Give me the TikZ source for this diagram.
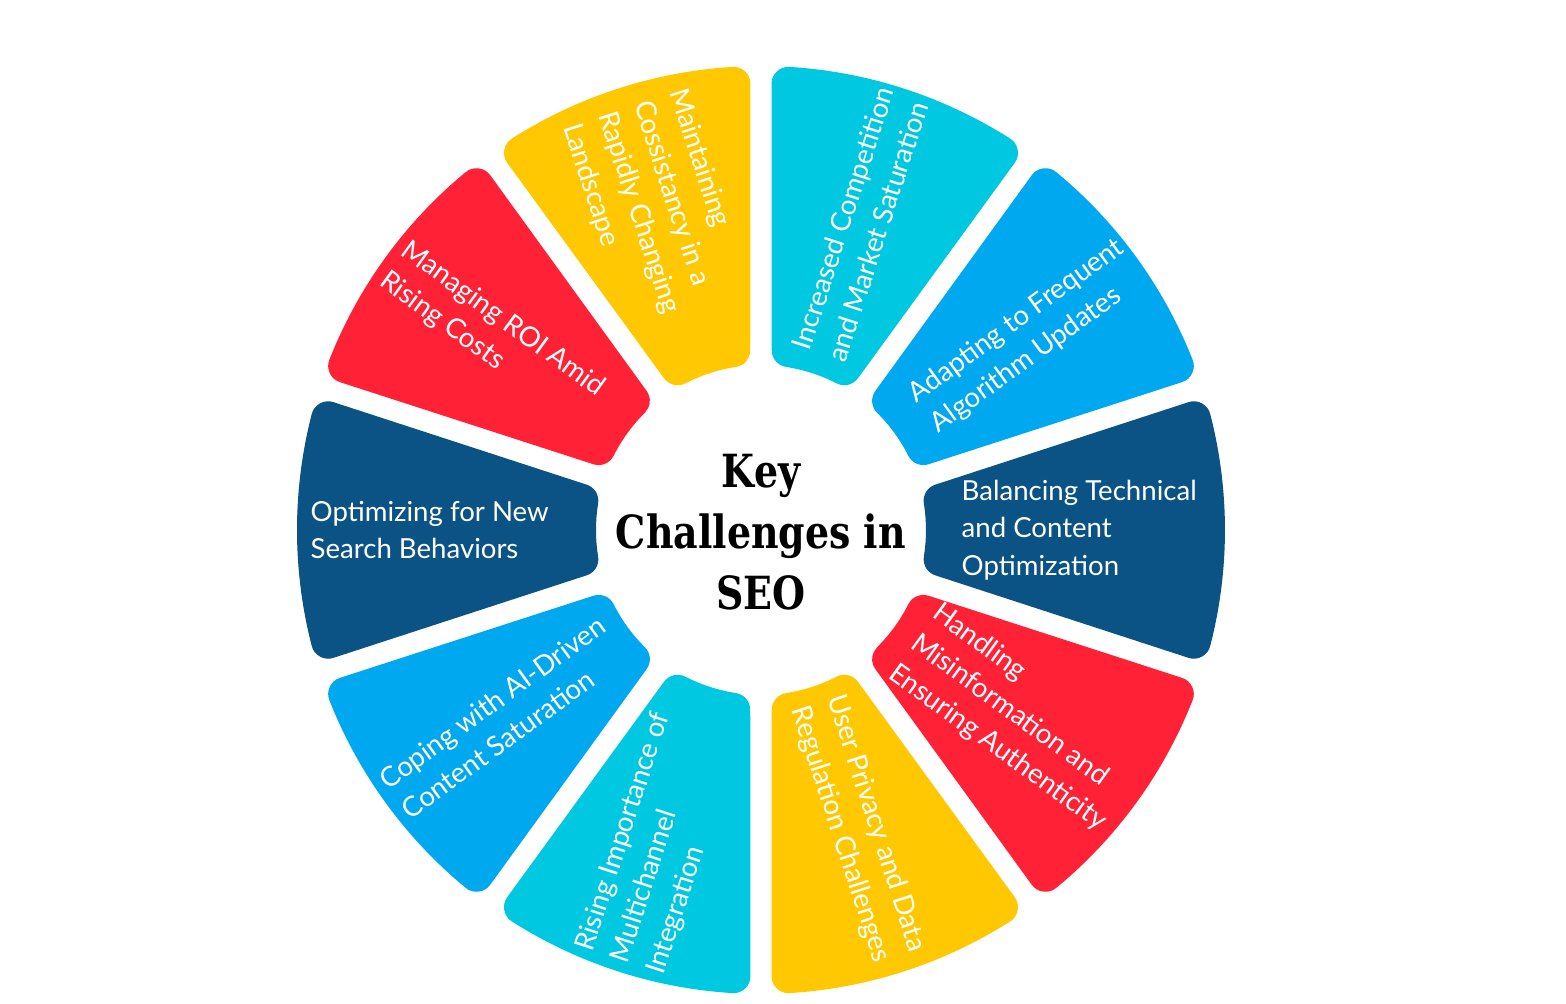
\documentclass[tikz,border=0pt]{standalone}
\usepackage{fontspec}
\setmainfont{Lato}
\newfontfamily\titlefont[FakeStretch=0.83]{DejaVu Serif}
\usepackage{xcolor}
\usepackage{tikz}
\usetikzlibrary{positioning}

\definecolor{segyellow}{HTML}{FFC800}
\definecolor{segred}{HTML}{FF2236}
\definecolor{segnavy}{HTML}{0B5384}
\definecolor{segblue}{HTML}{00A8F0}
\definecolor{segcyan}{HTML}{00C8E0}

\begin{document}
\begin{tikzpicture}[
    seg/.style={fill=#1, draw=#1, line width=3.4mm, line join=round},
    lbl/.style={text=white, align=left, inner sep=0pt, anchor=west, font=\fontsize{7.85}{10.6}\selectfont},
    title/.style={align=center, font=\titlefont\bfseries\fontsize{13}{17.4}\selectfont}
  ]
  % Canvas
  \useasboundingbox[fill=white] (-7.61,-4.74) rectangle (8.05,5.30);

  % Ring segments
  \foreach \a/\col in {90/segyellow,126/segred,162/segnavy,198/segblue,234/segcyan,
                       270/segyellow,306/segred,342/segnavy,378/segblue,414/segcyan} {
    \pgfmathsetmacro{\b}{\a+36}
    \draw[seg=\col] (\a+8.77:1.82) -- (\a+3.53:4.47)
      arc[start angle=\a+3.53, end angle=\b-3.53, radius=4.47]
      -- (\b-8.77:1.82)
      arc[start angle=\b-8.77, end angle=\a+8.77, radius=1.82] -- cycle;
  }

  % Right half, reading outwards
  \node[lbl, rotate=72] (competition) at (72:1.84) {Increased Competition\\and Market Saturation};
  \node[lbl, rotate=36] (algorithm) at (36:2.0) {Adapting to Frequent\\Algorithm Updates};
  \node[lbl] (balancing) at (0:2.0) {Balancing Technical\\and Content\\Optimization};
  \node[lbl, rotate=-36] (misinfo) at (-36:1.88) {Handling\\Misinformation and\\Ensuring Authenticity};
  \node[lbl, rotate=-72] (privacy) at (-72:1.80) {User Privacy and Data\\Regulation Challenges};

  % Left half, reading inwards
  \node[lbl, rotate=-72] (consistency) at (108:4.45) {Maintaining\\Cossistancy in a\\Rapidly Changing\\Landscape};
  \node[lbl, rotate=-36] (roi) at (144:4.55) {Managing ROI Amid\\Rising Costs};
  \node[lbl] (search) at (180:4.51) {Optimizing for New\\Search Behaviors};
  \node[lbl, rotate=36] (aicontent) at (216:4.55) {Coping with AI-Driven\\Content Saturation};
  \node[lbl, rotate=72] (multichannel) at (252:4.55) {Rising Importance of\\Multichannel\\Integration};

  % Centre
  \node[title] (title) at (0,-0.02) {Key\\Challenges in\\SEO};
\end{tikzpicture}
\end{document}
